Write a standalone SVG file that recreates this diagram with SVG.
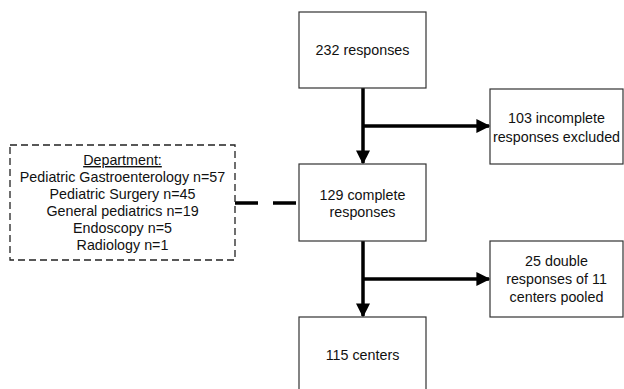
<svg xmlns="http://www.w3.org/2000/svg" width="624" height="389" viewBox="0 0 624 389">
<defs>
<style>
.box{fill:#fff;stroke:#333;stroke-width:1.2}
.dbox{fill:#fff;stroke:#222;stroke-width:1.3;stroke-dasharray:7,4}
.t{font-family:"Liberation Sans",Arial,sans-serif;font-size:14.3px;fill:#111;text-anchor:middle}
.c{stroke:#000;stroke-width:3.5;fill:none}
</style>
<marker id="ah" markerWidth="4" markerHeight="4" refX="3.6" refY="2" orient="auto" markerUnits="strokeWidth">
<path d="M0,0 L4,2 L0,4 Z" fill="#000"/>
</marker>
</defs>
<rect width="624" height="389" fill="#fff"/>
<g id="connectors">
<line class="c" x1="363" y1="88" x2="363" y2="163" marker-end="url(#ah)"/>
<line class="c" x1="363" y1="126" x2="489" y2="126" marker-end="url(#ah)"/>
<line class="c" x1="363" y1="241" x2="363" y2="316" marker-end="url(#ah)"/>
<line class="c" x1="363" y1="279" x2="489" y2="279" marker-end="url(#ah)"/>
<line class="c" x1="235" y1="203" x2="299" y2="203" stroke-dasharray="23,15"/>
</g>
<g id="n232">
<rect class="box" x="299" y="12" width="127" height="76"/>
<text class="t" x="362.5" y="55">232 responses</text>
</g>
<g id="n103">
<rect class="box" x="490" y="89" width="133" height="75"/>
<text class="t" x="556.5" y="123">103 incomplete</text>
<text class="t" x="556.5" y="142">responses excluded</text>
</g>
<g id="n129">
<rect class="box" x="299" y="164" width="127" height="77"/>
<text class="t" x="362.5" y="200">129 complete</text>
<text class="t" x="362.5" y="217">responses</text>
</g>
<g id="n25">
<rect class="box" x="490" y="241" width="133" height="76"/>
<text class="t" x="556.5" y="266">25 double</text>
<text class="t" x="556.5" y="284">responses of 11</text>
<text class="t" x="556.5" y="302">centers pooled</text>
</g>
<g id="n115">
<rect class="box" x="299" y="317" width="127" height="80"/>
<text class="t" x="362.5" y="360">115 centers</text>
</g>
<g id="dept">
<rect class="dbox" x="10" y="145" width="225" height="115"/>
<text class="t" x="122.5" y="165" text-decoration="underline">Department:</text>
<text class="t" x="122.5" y="182">Pediatric Gastroenterology n=57</text>
<text class="t" x="122.5" y="199">Pediatric Surgery n=45</text>
<text class="t" x="122.5" y="216">General pediatrics n=19</text>
<text class="t" x="122.5" y="233">Endoscopy n=5</text>
<text class="t" x="122.5" y="250">Radiology n=1</text>
</g>
</svg>
